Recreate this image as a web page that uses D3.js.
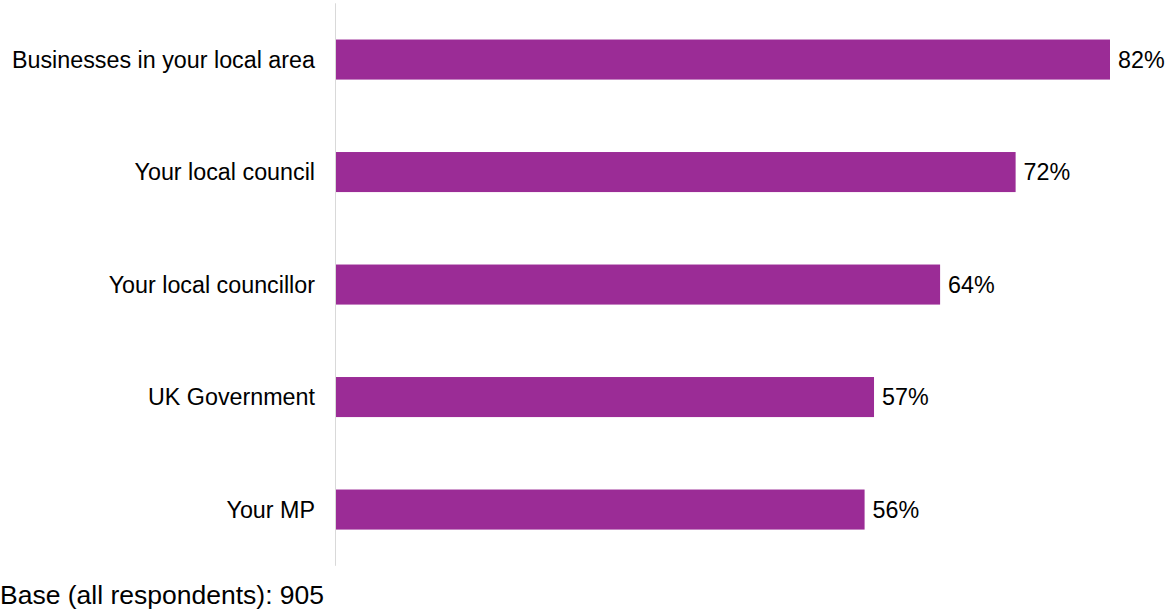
<!DOCTYPE html>
<html>
<head>
<meta charset="utf-8">
<script src="https://cdn.jsdelivr.net/npm/d3@7"></script>
<style>
  html, body { margin: 0; padding: 0; background: #fff; }
  svg text { font-family: "Liberation Sans", Arial, sans-serif; fill: #000; }
</style>
</head>
<body>
<svg id="chart" width="1165" height="610"></svg>
<script>
const categories = [
  "Businesses in your local area",
  "Your local council",
  "Your local councillor",
  "UK Government",
  "Your MP"
];
const values = [82, 72, 64, 57, 56];
const baseNote = "Base (all respondents): 905";

const svg = d3.select("#chart");
const x0 = 336;
const x = d3.scaleLinear().domain([0, 82]).range([x0, 1110]);
const y = d3.scaleBand()
  .domain(categories)
  .range([3.3, 565.8])
  .paddingInner(0.644)
  .paddingOuter(0.322);

// vertical category axis line
svg.append("line")
  .attr("x1", 335.5).attr("x2", 335.5)
  .attr("y1", 3.3).attr("y2", 565.8)
  .attr("stroke", "#d9d9d9").attr("stroke-width", 1);

const rows = categories.map((c, i) => ({ c, v: values[i] }));

svg.selectAll("rect.bar").data(rows).join("rect")
  .attr("class", "bar")
  .attr("x", x(0))
  .attr("y", d => y(d.c))
  .attr("width", d => x(d.v) - x(0))
  .attr("height", y.bandwidth())
  .attr("fill", "#9b2c96");

svg.selectAll("text.cat").data(rows).join("text")
  .attr("class", "cat")
  .attr("x", 315)
  .attr("y", d => y(d.c) + y.bandwidth() / 2)
  .attr("dy", "0.35em")
  .attr("text-anchor", "end")
  .attr("font-size", 23.3)
  .text(d => d.c);

svg.selectAll("text.val").data(rows).join("text")
  .attr("class", "val")
  .attr("x", d => x(d.v) + 8)
  .attr("y", d => y(d.c) + y.bandwidth() / 2)
  .attr("dy", "0.35em")
  .attr("font-size", 23.3)
  .text(d => d.v + "%");

svg.append("text")
  .attr("x", 0)
  .attr("y", 604)
  .attr("font-size", 26.5)
  .text(baseNote);
</script>
</body>
</html>
